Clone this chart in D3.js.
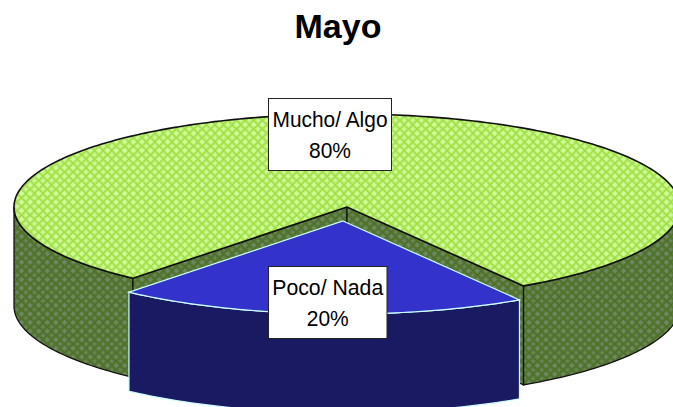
<!DOCTYPE html>
<html>
<head>
<meta charset="utf-8">
<script src="https://cdn.jsdelivr.net/npm/d3@7"></script>
<style>
  html, body { margin: 0; padding: 0; background: #fff; overflow: hidden; }
  svg { display: block; }
  text { font-family: "Liberation Sans", Arial, sans-serif; fill: #000; }
</style>
</head>
<body>
<div id="chart"></div>
<script>
const categories = ["Poco/ Nada", "Mucho/ Algo"];
const values = [20, 80];
const title = "Mayo";

const width = 673, height = 407;
const cx = 347, cy = 207, rx = 333, ry = 93, depth = 99;
const explode = { x: -4, y: 14 };

let svg = d3.select("#chart").append("svg")
  .attr("width", width)
  .attr("height", height);

// tiled hatch, same layout for the top and the wall
let defs = svg.append("defs");
function addPattern(id, base, dark, light) {
  let t = 8.6, m = t / 2;
  let p = defs.append("pattern")
    .attr("id", id)
    .attr("patternUnits", "userSpaceOnUse")
    .attr("width", t)
    .attr("height", t);
  p.append("rect").attr("width", t).attr("height", t).attr("fill", base);
  p.append("path")
    .attr("d", `M${m},0L${t},${m}L${m},${t}L0,${m}Z`)
    .attr("fill", "none")
    .attr("stroke", dark)
    .attr("stroke-width", 1.3);
  p.append("path")
    .attr("d", `M${m},${m - 2.6}L${m + 2.6},${m}L${m},${m + 2.6}L${m - 2.6},${m}Z`)
    .attr("fill", light);
  p.append("path")
    .attr("d", "M0,1.6L1.6,0L0,0Z" +
      `M${t},1.6L${t - 1.6},0L${t},0Z` +
      `M0,${t - 1.6}L1.6,${t}L0,${t}Z` +
      `M${t},${t - 1.6}L${t - 1.6},${t}L${t},${t}Z`)
    .attr("fill", light);
}
addPattern("hatchTop", "#bdf078", "#a0dc40", "#ccff99");
addPattern("hatchWall", "#5c7a3c", "#4c7024", "#6c8864");

// 148 degrees from the top puts the small slice at the front
const start = 148 * Math.PI / 180;
const pie = d3.pie().sort(null).startAngle(start).endAngle(start + 2 * Math.PI);
const arcs = pie(values);

const xs = d3.scaleLinear().domain([-1, 1]).range([cx - rx, cx + rx]);
const ys = d3.scaleLinear().domain([-1, 1]).range([cy - ry, cy + ry]);

function rimPoint(a, off) {
  return [xs(Math.sin(a)), ys(-Math.cos(a)) + off];
}
function rim(a0, a1, off) {
  let n = Math.ceil(Math.abs(a1 - a0) / 0.02);
  return d3.range(n + 1).map(i => rimPoint(a0 + (a1 - a0) * i / n, off));
}
const line = d3.line();

function topPath(d) {
  return line([[cx, cy], ...rim(d.startAngle, d.endAngle, 0)]) + "Z";
}

// only the front half of the rim is ever seen, one piece per front half crossed
function wallPath(d) {
  let out = "";
  [0, 1].forEach(k => {
    let a0 = Math.max(d.startAngle, Math.PI / 2 + 2 * Math.PI * k);
    let a1 = Math.min(d.endAngle, 3 * Math.PI / 2 + 2 * Math.PI * k);
    if (a1 > a0) {
      out += line([...rim(a0, a1, 0), ...rim(a1, a0, depth)]) + "Z";
    }
  });
  return out;
}
function cutPath(a) {
  let edge = rimPoint(a, 0);
  return line([[cx, cy], edge, [edge[0], edge[1] + depth], [cx, cy + depth]]) + "Z";
}

let main = svg.append("g");

main.append("path")
  .attr("d", wallPath(arcs[1]))
  .attr("fill", "url(#hatchWall)")
  .attr("stroke", "#111")
  .attr("stroke-width", 1.3);

[arcs[1].startAngle, arcs[1].endAngle].forEach(a => {
  main.append("path")
    .attr("d", cutPath(a))
    .attr("fill", "url(#hatchWall)")
    .attr("stroke", "#111")
    .attr("stroke-width", 1.3);
});

main.append("path")
  .attr("d", topPath(arcs[1]))
  .attr("fill", "url(#hatchTop)")
  .attr("stroke", "#111")
  .attr("stroke-width", 1.6);

let slice = svg.append("g")
  .attr("transform", `translate(${explode.x},${explode.y})`);

slice.append("path")
  .attr("d", wallPath(arcs[0]))
  .attr("fill", "#1a1a62")
  .attr("stroke", "#ccffff")
  .attr("stroke-width", 1.2);

slice.append("path")
  .attr("d", topPath(arcs[0]))
  .attr("fill", "#3333cc")
  .attr("stroke", "#ccffff")
  .attr("stroke-width", 1.2);

svg.append("text")
  .attr("x", 338)
  .attr("y", 38)
  .attr("text-anchor", "middle")
  .attr("font-size", 34)
  .attr("font-weight", "700")
  .text(title);

const labelBoxes = [
  { x: 268.5, y: 266.5, w: 118.5, h: 72, nameW: 111 },
  { x: 268.5, y: 98.5, w: 123, h: 72, nameW: 115 }
];

categories.forEach((c, i) => {
  let b = labelBoxes[i];
  let g = svg.append("g");
  g.append("rect")
    .attr("x", b.x)
    .attr("y", b.y)
    .attr("width", b.w)
    .attr("height", b.h)
    .attr("fill", "#fff")
    .attr("stroke", "#222")
    .attr("stroke-width", 1);
  g.append("text")
    .attr("x", b.x + b.w / 2)
    .attr("y", b.y + 28.5)
    .attr("text-anchor", "middle")
    .attr("font-size", 22)
    .attr("textLength", b.nameW)
    .attr("lengthAdjust", "spacingAndGlyphs")
    .text(c);
  g.append("text")
    .attr("x", b.x + b.w / 2)
    .attr("y", b.y + 59.5)
    .attr("text-anchor", "middle")
    .attr("font-size", 22)
    .attr("textLength", 42)
    .attr("lengthAdjust", "spacingAndGlyphs")
    .text(values[i] + "%");
});
</script>
</body>
</html>
